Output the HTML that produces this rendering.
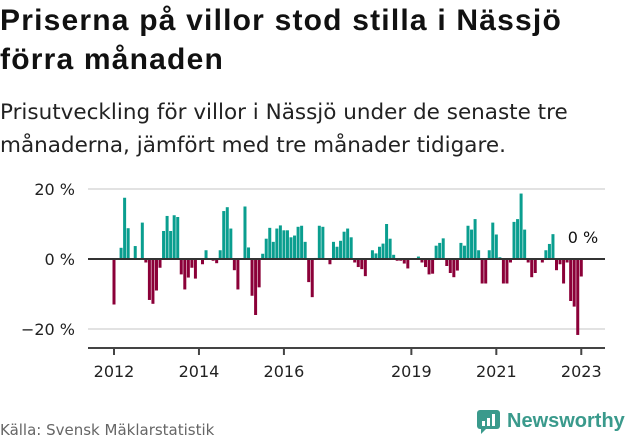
<!DOCTYPE html>
<html><head><meta charset="utf-8">
<style>
body{margin:0;background:#fff;font-family:"DejaVu Sans","Liberation Sans",sans-serif;}
#wrap{position:relative;width:631px;height:439px;overflow:hidden;}
h1{position:absolute;left:0;top:1px;margin:0;font-family:"Liberation Sans",sans-serif;font-size:30px;line-height:39px;font-weight:bold;color:#111;letter-spacing:1.2px}
.sub{position:absolute;left:0;top:96px;margin:0;font-size:21.5px;line-height:33px;color:#222;}
.src{position:absolute;left:0;top:421px;font-size:15px;color:#666;}
.logo{position:absolute;left:476px;top:408px;}
</style></head><body>
<div id="wrap">
<h1>Priserna på villor stod stilla i Nässjö<br>förra månaden</h1>
<p class="sub">Prisutveckling för villor i Nässjö under de senaste tre<br>månaderna, jämfört med tre månader tidigare.</p>
<svg id="chart" width="631" height="439" style="position:absolute;left:0;top:0"></svg>
<div class="src">Källa: Svensk Mäklarstatistik</div>
<div class="logo">
<svg width="150" height="26">
<rect x="1" y="2" width="23" height="19" rx="3" fill="#3a9a8c"/>
<path d="M5 21 L5 26 L10 21 Z" fill="#3a9a8c"/>
<rect x="6" y="13" width="3" height="5" fill="#fff"/><rect x="11" y="10" width="3" height="8" fill="#fff"/><rect x="16" y="6" width="3" height="12" fill="#fff"/>
<text x="31" y="19" font-size="20" font-weight="bold" fill="#3a9a8c" font-family="Liberation Sans, sans-serif">Newsworthy</text>
</svg></div>
</div>
<script>
const values=[-13,0,3.2,17.5,8.8,0,3.7,0,10.4,-1,-11.7,-12.8,-9,-2.5,8,12.3,8,12.5,12,-4.4,-8.7,-5.3,-2.5,-5.6,0,-1.5,2.5,0,-0.5,-1.2,2.5,13.7,14.8,8.7,-3.2,-8.7,0,15,3.3,-10.5,-16,-8.1,1.5,5.8,8.9,4.9,8.7,9.6,8.2,8.2,6.2,6.7,9.2,9.5,4.9,-6.6,-10.9,0.3,9.5,9.2,0,-1.5,4.9,3.5,5.2,7.8,8.7,6.2,-1,-2.3,-2.9,-4.9,0,2.5,1.6,3.5,4.4,10,5.8,1.2,-0.5,-0.5,-1.3,-2.7,0,0,0.7,-1,-2.3,-4.4,-4.2,3.8,4.6,5.9,-2,-4,-5.2,-3.3,4.6,3.8,9.5,8.4,11.4,2.5,-7,-7,2.5,10.4,7,0.5,-7,-7,-1,10.6,11.4,18.7,8.4,-1,-5.2,-4,0,-1,2.5,4.3,7.1,-3.2,-1.5,-7,-1,-12,-13.6,-21.7,-5];
const startYear=2012;
const yTicks=[20,0,-20];
const xTickYears=[2012,2014,2016,2019,2021,2023];
const lastLabel="0 %";
const NS="http://www.w3.org/2000/svg";
const svg=document.getElementById('chart');
const x0=114,mw=3.54,left=88,right=605;
function xScale(i){return x0+i*mw;}
function yScale(v){return 259-v*3.5;}
function mk(t,a){const e=document.createElementNS(NS,t);for(const k in a)e.setAttribute(k,a[k]);svg.appendChild(e);return e;}
yTicks.forEach(v=>{
 if(v!==0){const g=mk('line',{x1:left,x2:right,y1:yScale(v),y2:yScale(v),stroke:'#e2e2e2','stroke-width':2});
 
 }
 const t=mk('text',{x:75,y:yScale(v)+6,'text-anchor':'end','font-size':16,fill:'#222'});
 t.textContent=v===0?'0 %':(v<0?'−'+(-v):v)+' %';
 
 
});
values.forEach((v,i)=>{
 if(v===0)return;
 const y=yScale(Math.max(v,0)),h=Math.abs(yScale(v)-yScale(0));
 const r=mk('rect',{x:xScale(i)-1.5,y:y,width:3,height:h,fill:v>0?'#0a9e8f':'#8b0038'});
 
 
});
const z=mk('line',{x1:left,x2:right,y1:259,y2:259,stroke:'#333','stroke-width':2});


const ax=mk('line',{x1:left,x2:right,y1:348,y2:348,stroke:'#444','stroke-width':2});


xTickYears.forEach(yr=>{
 const x=xScale((yr-startYear)*12);
 const tk=mk('line',{x1:x,x2:x,y1:348,y2:355,stroke:'#444','stroke-width':2});
 
 
 const t=mk('text',{x:x,y:377,'text-anchor':'middle','font-size':16,fill:'#222'});
 t.textContent=yr;
 
 
});
const ll=mk('text',{x:583,y:243,'text-anchor':'middle','font-size':16,fill:'#111'});
ll.textContent=lastLabel;


</script>
</body></html>
